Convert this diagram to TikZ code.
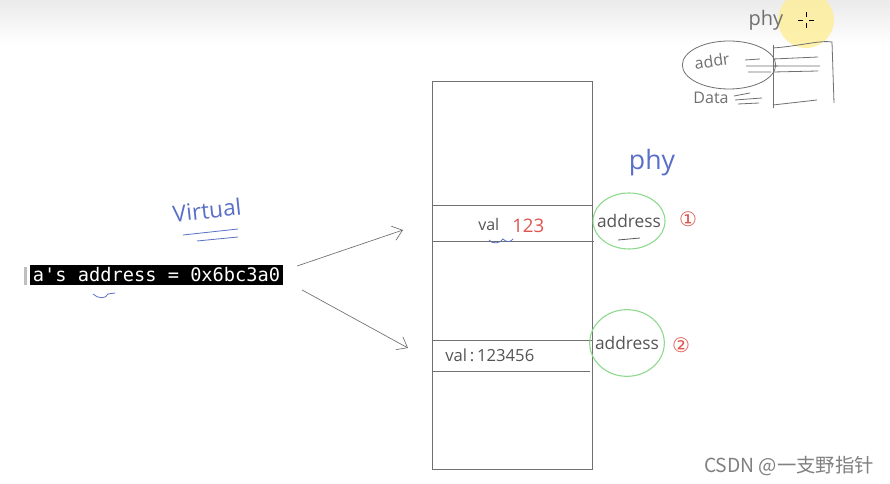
\documentclass[tikz,border=0pt]{standalone}
\usepackage{fontspec}
\setmainfont{Open Sans}
\setmonofont{DejaVu Sans Mono}
\newfontfamily\cjkfont{Noto Sans CJK SC}
\usetikzlibrary{arrows.meta,shapes.geometric}
\definecolor{penblue}{HTML}{5A6FC8}
\definecolor{pengray}{HTML}{555555}
\definecolor{penred}{HTML}{E0554F}
\definecolor{pengreen}{HTML}{8CD98C}
\definecolor{linegray}{HTML}{707070}
\tikzset{
  hand/.style={font=\fontsize{12}{12}\selectfont, text=pengray, inner sep=0pt},
  memline/.style={draw=linegray, line width=0.6pt},
  ring/.style={draw=pengreen, line width=0.8pt, ellipse},
  pencil/.style={draw=linegray, line width=0.6pt},
  ptr/.style={draw=linegray, line width=0.5pt, -{Straight Barb[length=7pt,width=11pt]}},
}
\begin{document}
\begin{tikzpicture}[x=0.75pt,y=-0.75pt]
\useasboundingbox (0,0) rectangle (890,484);
\fill[white] (0,0) rectangle (890,484);
\shade[top color=black!8, bottom color=white] (0,0) rectangle (890,45);

% memory block
\node[draw=linegray, line width=0.6pt, minimum width=120pt, minimum height=291pt, inner sep=0pt, anchor=north west] (mem) at (432,81) {};
\draw[memline] (432,205) -- (592,205);
\draw[memline] (432,241) -- (594,241);
\draw[memline] (432,340) -- (592,340);
\draw[memline] (432,371) -- (590,371);

% cell texts
\node[hand, anchor=west] (val1) at (478,225) {val};
\node[hand, text=penred, anchor=west, font=\fontsize{14}{14}\selectfont] (n123) at (512,226) {123};
\draw[penblue, line width=0.6pt] (489,240) .. controls (492,244) and (500,244) .. (503,239) .. controls (506,242) and (510,243) .. (513,239);
\node[hand, anchor=west, font=\fontsize{12.5}{12.5}\selectfont] (val2) at (445,355) {val\,:\,123456};

% physical addresses
\node[ring, minimum width=54pt, minimum height=42pt] (ring1) at (629,221) {};
\node[hand, font=\fontsize{13}{13}\selectfont] (addr1) at (ring1) {address};
\draw[pengray, line width=0.6pt] (618,240) -- (640,238);
\node[hand, text=penred, font=\fontsize{15}{15}\selectfont] (c1) at (688,219) {\fontspec{DejaVu Sans}①};
\node[ring, minimum width=56pt, minimum height=50pt] (ring2) at (627,343) {};
\node[hand, font=\fontsize{13}{13}\selectfont] (addr2) at (ring2) {address};
\node[hand, text=penred, font=\fontsize{15}{15}\selectfont] (c2) at (681,345) {\fontspec{DejaVu Sans}②};
\node[hand, text=penblue, font=\fontsize{20}{20}\selectfont] (phy) at (652,163) {phy};

% virtual address
\node[fill=black, text=white, font=\ttfamily\fontsize{14}{14}\selectfont, inner xsep=2pt, inner ysep=2pt, minimum height=13.5pt, anchor=west] (vaddr) at (30,275) {a's address = 0x6bc3a0};
\fill[black!25] (24,267) rectangle (27,285);
\draw[penblue, line width=0.6pt] (93,294) .. controls (98,299) and (106,299) .. (108,294) -- (115,293);
\node[hand, text=penblue, font=\fontsize{17}{17}\selectfont, rotate=6] (virt) at (207,210) {Virtual};
\draw[penblue, line width=0.6pt] (183,235) -- (238,229);
\draw[penblue, line width=0.6pt] (197,241) -- (238,237);

\coordinate (t1) at (403,230);
\coordinate (t2) at (408,348);
\draw[ptr] (vaddr.east) ++(14,-9) -- (t1);
\draw[ptr] (vaddr.east) ++(19,15) -- (t2);

% sketch top right
\fill[yellow!75!orange!40, opacity=0.8] (806,20) circle (28);
\draw[black, line width=0.7pt] (806,12) -- (806,17) (806,23) -- (806,28) (798,20) -- (803,20) (809,20) -- (814,20);
\node[hand, font=\fontsize{15}{15}\selectfont, text=linegray] (phy2) at (766,20) {phy};
\node[pencil, ellipse, minimum width=70pt, minimum height=36pt] (addrell) at (729,65) {};
\node[hand, font=\fontsize{12}{12}\selectfont, text=linegray, rotate=8] (addrtxt) at (712,61) {addr};
\draw[pencil] (773,45) -- (773,108);
\draw[pencil] (773,48) .. controls (800,46) and (820,40) .. (832,42) -- (834,103);
\draw[pencil] (773,105) -- (817,100);
\draw[pencil] (745,60) -- (760,59) (746,66) -- (778,66) (748,72) -- (771,72);
\draw[pencil] (773,59) -- (818,57) (773,66) -- (820,66) (773,72) -- (818,71);
\node[hand, font=\fontsize{12}{12}\selectfont, text=linegray] (datatxt) at (711,98) {Data};
\draw[pencil] (734,96) -- (750,93) (735,100) -- (762,98) (738,104) -- (759,103);

% watermark
\node[font=\cjkfont\fontsize{14.5}{14.5}\selectfont, text=black!50, inner sep=0pt] (wm) at (789,466) {CSDN @一支野指针};
\end{tikzpicture}
\end{document}
